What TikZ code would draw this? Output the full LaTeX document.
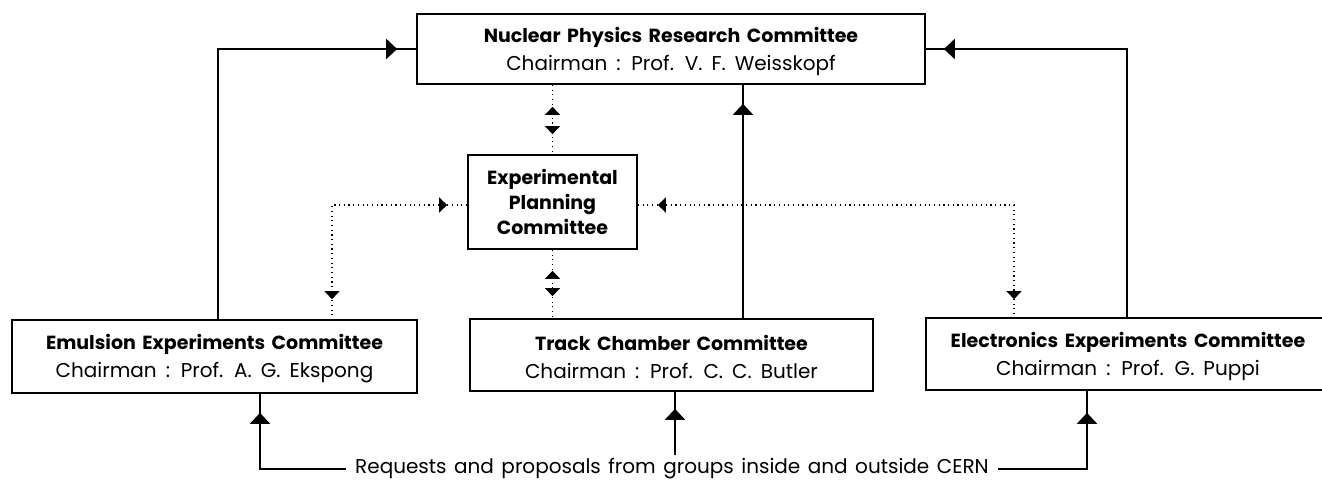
\documentclass[tikz,border=0pt]{standalone}
\usepackage{fontspec}
\setmainfont{Poppins}
\usetikzlibrary{arrows.meta,positioning,decorations.markings}

\newcommand{\widesp}[1]{\spaceskip=#1 plus 1pt\relax}
\newcommand{\cmtitle}[1]{{\fontsize{19}{28}\selectfont\bfseries\widesp{6.5pt}\rule{0pt}{20pt}#1}}

\tikzset{
  bigtip/.tip={Triangle[length=11pt,width=20pt]},
  smalltip/.tip={Triangle[length=8pt,width=15pt]},
  cmte/.style={draw, line width=1.7pt, align=center, inner sep=0pt,
    font={\fontsize{20}{28}\selectfont\widesp{9pt}}},
  solidline/.style={line width=2.2pt},
  dotline/.style={line width=1.3pt, dash pattern=on 1.2pt off 3.5pt},
  solidto/.style={solidline, postaction={decorate},
    decoration={markings, mark=at position -#1 with {\arrow{bigtip}}}},
  dotto/.style 2 args={dotline, postaction={decorate},
    decoration={markings,
      mark=at position #1 with {\arrowreversed{smalltip}},
      mark=at position -#2 with {\arrow{smalltip}}}}
}

\begin{document}
\begin{tikzpicture}[x=1pt, y=-1pt]
  \useasboundingbox (0,0) rectangle (1322,480);

  % committees
  \node[cmte, minimum width=508pt, minimum height=70pt] (npr) at (671,49)
    {\cmtitle{Nuclear Physics Research Committee}\\Chairman : Prof. V. F. Weisskopf};
  \node[cmte, minimum width=169pt, minimum height=94pt,
    font={\fontsize{19}{25}\selectfont\bfseries}] (epc) at (552.5,202)
    {Experimental\\Planning\\Committee};
  \node[cmte, minimum width=405pt, minimum height=73pt] (emu) at (214.5,356.5)
    {\cmtitle{Emulsion Experiments Committee}\\Chairman : Prof. A. G. Ekspong};
  \node[cmte, minimum width=403pt, minimum height=72pt] (trk) at (671.5,355)
    {\cmtitle{Track Chamber Committee}\\Chairman : Prof. C. C. Butler};
  \node[cmte, minimum width=404pt, minimum height=72pt] (ele) at (1128,354)
    {\cmtitle{Electronics Experiments Committee}\\Chairman : Prof. G. Puppi};

  \node[font={\fontsize{20}{22}\selectfont\widesp{7.5pt}},
    inner xsep=9pt, inner ysep=3pt] (req) at (672,469)
    {Requests and proposals from groups inside and outside CERN};

  % reports upwards
  \draw[solidto=19pt] ([xshift=3.5pt]emu.north) |- (npr.west);
  \draw[solidto=19pt] ([xshift=71.5pt]trk.north) -- ([xshift=71.5pt]trk.north |- npr.south);
  \draw[solidto=18pt] ([xshift=-1pt]ele.north) |- (npr.east);

  % planning links
  \draw[dotto={22pt}{20pt}] (npr.south -| epc.north) -- (epc.north);
  \draw[dotto={21pt}{22pt}] (epc.south) -- (epc.south |- trk.north);
  \draw[dotto={20pt}{20pt}] ([yshift=-3pt]epc.west) -| ([xshift=117.5pt]emu.north);
  \draw[dotto={20pt}{18pt}] ([yshift=-3pt]epc.east) -| ([xshift=-114pt]ele.north);

  % requests
  \draw[solidto=19pt] (req.west) -| ([xshift=45.5pt]emu.south);
  \draw[solidto=17pt] ([xshift=3pt]req.north) -- ([xshift=3pt]req.north |- trk.south);
  \draw[solidto=22pt] (req.east) -| ([xshift=-41pt]ele.south);
\end{tikzpicture}
\end{document}
